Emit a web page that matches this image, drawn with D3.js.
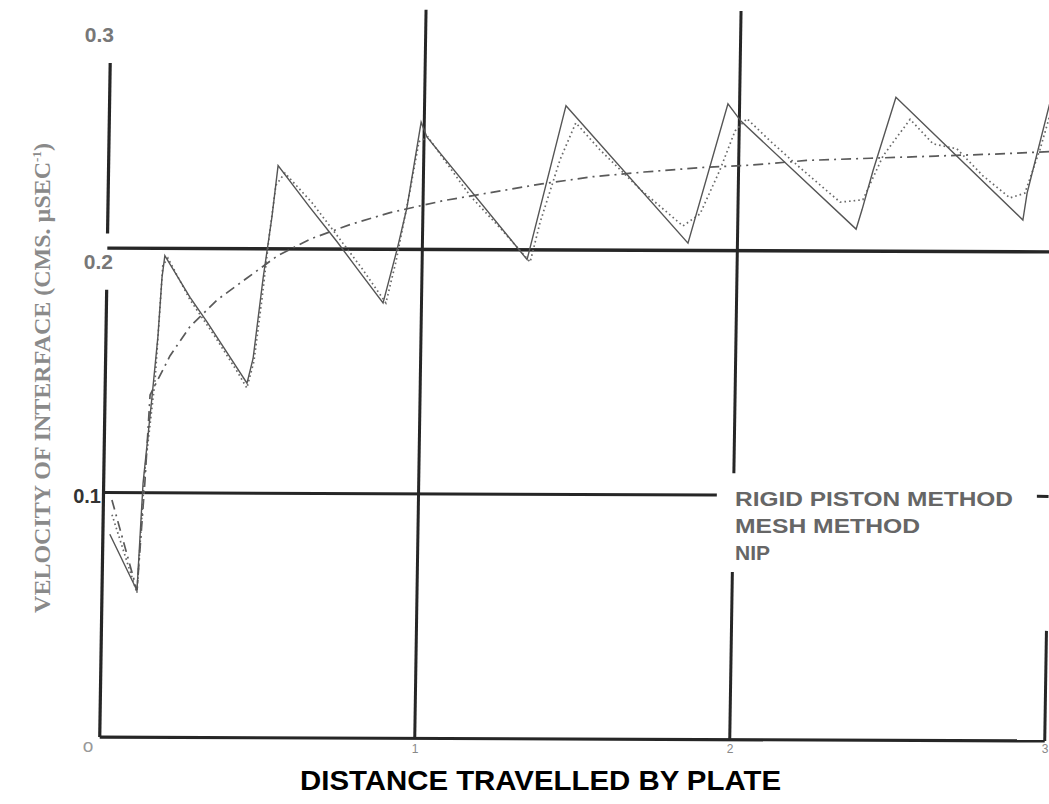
<!DOCTYPE html>
<html><head><meta charset="utf-8">
<script src="https://cdn.jsdelivr.net/npm/d3@7"></script>
<style>body{margin:0;background:#fff;} svg{display:block;background:#fff;}</style>
</head><body>
<svg id="chart" width="1049" height="804"></svg>
<script>
// ---------- data ----------
const yTickValues = [0, 0.1, 0.2, 0.3];
const yTickLabels = ["o", "0.1", "0.2", "0.3"];
const xTickValues = [1, 2, 3];
const xTickLabels = ["1", "2", "3"];
const legendLabels = ["RIGID PISTON METHOD", "MESH METHOD", "NIP"];

const rigidX = [0.022,0.111,0.125,0.149,0.165,0.175,0.183,0.265,0.320,0.372,0.450,0.468,0.496,0.521,0.538,0.641,0.729,0.794,0.878,0.920,0.949,0.990,1.009,1.333,1.449,1.843,1.963,2.005,2.376,2.394,2.427,2.496,2.905,2.917,2.985,3.0];
const rigidY = [0.083,0.060,0.104,0.139,0.164,0.188,0.197,0.180,0.170,0.160,0.145,0.155,0.188,0.213,0.234,0.217,0.203,0.192,0.178,0.200,0.217,0.252,0.246,0.196,0.259,0.203,0.260,0.253,0.209,0.217,0.233,0.263,0.213,0.224,0.261,0.266];

const meshX = [0.028,0.111,0.130,0.158,0.177,0.193,0.265,0.346,0.417,0.450,0.471,0.493,0.514,0.532,0.560,0.647,0.738,0.810,0.887,0.917,0.958,0.984,1.012,1.149,1.245,1.343,1.372,1.433,1.481,1.559,1.688,1.826,1.880,1.941,1.987,2.024,2.098,2.195,2.324,2.396,2.458,2.542,2.616,2.692,2.776,2.863,2.910,2.956,2.986];
const meshY = [0.091,0.059,0.109,0.146,0.193,0.196,0.179,0.164,0.150,0.143,0.154,0.179,0.206,0.226,0.231,0.219,0.204,0.192,0.178,0.195,0.224,0.244,0.246,0.222,0.209,0.195,0.211,0.237,0.252,0.241,0.225,0.210,0.215,0.233,0.249,0.254,0.245,0.234,0.220,0.221,0.239,0.254,0.244,0.242,0.231,0.222,0.224,0.242,0.256];

const nipX = [0.027,0.111,0.131,0.143,0.204,0.266,0.351,0.445,0.539,0.643,0.769,0.896,1.066,1.199,1.376,1.538,1.700,1.890,2.039,2.215,2.418,2.625,2.829,2.988];
const nipY = [0.097,0.060,0.105,0.140,0.156,0.168,0.179,0.188,0.197,0.204,0.210,0.215,0.220,0.223,0.227,0.230,0.232,0.234,0.235,0.237,0.238,0.239,0.240,0.241];

// ---------- layout ----------
const svg = d3.select("#chart");
const x = d3.scaleLinear().domain([0, 3]).range([105, 1050]);
const y = d3.scaleLinear().domain([0, 0.3]).range([739, 5.5]);

// the scanned original is slightly skewed
const kx = 0.0155, ky = 0.004, cx = 575, cy = 400;
const plot = svg.append("g")
  .attr("transform", `matrix(1,${ky},${-kx},1,${kx*cy},${-ky*cx})`);

const gridColor = "#262626";
function seg(x1, y1, x2, y2, w) {
  plot.append("line")
    .attr("x1", x(x1)).attr("y1", y(y1)).attr("x2", x(x2)).attr("y2", y(y2))
    .attr("stroke", gridColor).attr("stroke-width", w || 3);
}
// axes
seg(0, 0, 3, 0, 3.2);                 // bottom axis
seg(0, 0, 0, 0.183, 3.2);             // left axis (lower)
seg(0, 0.206, 0, 0.2757, 3.2);        // left axis (upper)
// horizontal grid lines
seg(0, 0.2, 3, 0.2, 3.4);
seg(0, 0.1, 1.947, 0.1, 3);
seg(2.963, 0.1, 3, 0.1, 3);
// vertical grid lines
seg(1, 0, 1, 0.298, 3);
seg(2, 0, 2, 0.0686, 3);
seg(2, 0.109, 2, 0.298, 3);
seg(3, 0, 3, 0.045, 3);

// series
const line = d3.line().x(d => x(d[0])).y(d => y(d[1]));
function series(xs, ys) { return xs.map((v, i) => [v, ys[i]]); }

plot.append("path").datum(series(nipX, nipY)).attr("d", line)
  .attr("fill", "none").attr("stroke", "#5a5a5a").attr("stroke-width", 1.7)
  .attr("stroke-dasharray", "10,5,2,5");
plot.append("path").datum(series(meshX, meshY)).attr("d", line)
  .attr("fill", "none").attr("stroke", "#6a6a6a").attr("stroke-width", 1.7)
  .attr("stroke-dasharray", "1.6,3");
plot.append("path").datum(series(rigidX, rigidY)).attr("d", line)
  .attr("fill", "none").attr("stroke", "#555").attr("stroke-width", 1.4);

// ---------- y tick labels ----------
const sans = "Liberation Sans, Arial, Helvetica, sans-serif";
yTickValues.forEach((v, i) => {
  const t = svg.append("text").text(yTickLabels[i]).attr("font-family", sans);
  if (v === 0) {
    t.attr("x", 88).attr("y", y(v) + 13).attr("text-anchor", "middle")
     .attr("font-size", 19).attr("fill", "#999");
  } else if (v === 0.1) {
    t.attr("x", 101).attr("y", y(v) + 8).attr("text-anchor", "end")
     .attr("font-size", 20).attr("font-weight", "bold").attr("fill", "#333");
  } else if (v === 0.2) {
    t.attr("x", 113).attr("y", y(v) + 19).attr("text-anchor", "end")
     .attr("font-size", 21).attr("font-weight", "bold").attr("fill", "#777");
  } else {
    t.attr("x", 114).attr("y", y(v) + 36).attr("text-anchor", "end")
     .attr("font-size", 21).attr("font-weight", "bold").attr("fill", "#777");
  }
});

// ---------- x tick labels ----------
xTickValues.forEach((v, i) => {
  svg.append("text").text(xTickLabels[i])
    .attr("x", x(v) - 5).attr("y", y(0) + 14).attr("text-anchor", "middle")
    .attr("font-family", sans).attr("font-size", 12).attr("fill", "#888");
});

// ---------- legend (text only) ----------
legendLabels.forEach((s, i) => {
  const t = svg.append("text").text(s)
    .attr("x", 735).attr("y", 505.5 + i * 27.3)
    .attr("font-family", sans).attr("font-weight", "bold")
    .attr("font-size", 21).attr("fill", "#666");
  if (i === 0) t.attr("textLength", 278).attr("lengthAdjust", "spacingAndGlyphs");
  if (i === 1) t.attr("textLength", 185).attr("lengthAdjust", "spacingAndGlyphs");
});

// ---------- axis titles ----------
const yt = svg.append("text")
  .attr("transform", "translate(50,378) rotate(-90)")
  .attr("text-anchor", "middle")
  .attr("font-family", "Liberation Serif, 'Times New Roman', serif")
  .attr("font-weight", "bold").attr("font-size", 24).attr("fill", "#8a8a8a");
yt.append("tspan").text("VELOCITY OF INTERFACE (CMS. \u00B5SEC");
yt.append("tspan").text("-1").attr("font-size", 13).attr("dy", -9);
yt.append("tspan").text(")").attr("dy", 9);

svg.append("text").text("DISTANCE TRAVELLED BY PLATE")
  .attr("x", 300).attr("y", 790)
  .attr("font-family", sans).attr("font-weight", "bold")
  .attr("font-size", 28).attr("fill", "#000")
  .attr("textLength", 481).attr("lengthAdjust", "spacingAndGlyphs");
</script>
</body></html>
